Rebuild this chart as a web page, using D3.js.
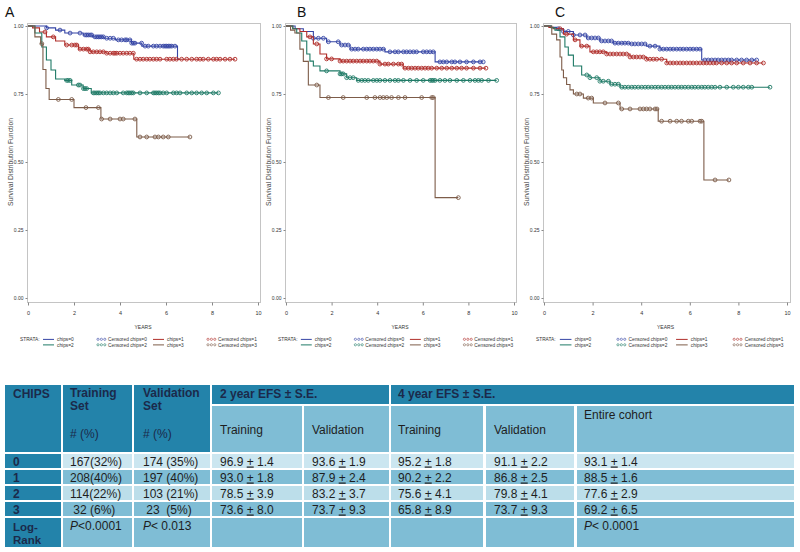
<!DOCTYPE html>
<html><head><meta charset="utf-8">
<script src="https://cdn.jsdelivr.net/npm/d3@7"></script>
<style>body{margin:0;background:#fff} svg{display:block}</style>
</head><body>
<svg id="c" width="800" height="552"></svg>
<script>
// ---------- DATA ----------
const strata = ["chips=0","chips=1","chips=2","chips=3"];
const xTicks = [0,2,4,6,8,10];
const yTicks = [0,0.25,0.5,0.75,1];
const yTickLabels = ["0.00","0.25","0.50","0.75","1.00"];
const panelLabels = ["A","B","C"];

// Panel A (Training set) : KM steps [years, survival], end time, censored times
const stepsA0 = [[0,1],[0.8,0.993],[1.2,0.985],[1.6,0.974],[2.4,0.967],[2.8,0.96],[3.3,0.955],[3.8,0.949],[4.5,0.937],[4.95,0.926],[6.5,0.878]];
const stepsA1 = [[0,1],[0.2,0.993],[0.5,0.978],[0.8,0.96],[1.2,0.945],[1.6,0.93],[2.2,0.915],[2.7,0.905],[3.4,0.9],[4.6,0.878]];
const stepsA2 = [[0,1],[0.3,0.974],[0.6,0.923],[0.8,0.875],[1.0,0.838],[1.2,0.805],[1.6,0.8],[1.9,0.783],[2.4,0.77],[2.75,0.754]];
const stepsA3 = [[0,1],[0.3,0.96],[0.55,0.935],[0.65,0.84],[0.78,0.77],[0.92,0.73],[2.0,0.70],[3.17,0.658],[4.73,0.592]];
const endsA = [6.6, 9.0, 8.28, 7.05];
const censA0 = [0.81,1.39,1.83,2.26,2.48,2.55,2.62,2.70,2.77,2.91,2.99,3.06,3.13,3.20,3.28,3.42,3.57,3.71,3.93,4.07,4.22,4.29,4.43,4.51,4.58,4.65,4.94,5.09,5.23,5.45,5.59,5.74,5.88,5.96,6.03,6.10,6.17,6.25,6.39];
const censA1 = [0.74,1.1,1.68,1.9,2.04,2.12,2.26,2.41,2.55,2.62,2.7,2.84,2.99,3.13,3.28,3.42,3.57,3.71,3.78,3.86,4.0,4.14,4.29,4.43,4.58,4.72,4.87,5.01,5.16,5.3,5.45,5.59,5.74,6.03,6.17,6.32,6.46,6.68,6.9,7.12,7.33,7.48,7.62,7.84,8.06,8.2,8.35,8.57,8.78,9.0];
const censA2 = [1.68,1.75,1.83,2.19,2.26,2.41,2.48,2.55,2.84,2.91,2.99,3.06,3.13,3.28,3.42,3.57,3.71,3.86,4.14,4.29,4.36,4.43,4.51,4.58,4.87,5.16,5.45,5.52,5.59,5.67,5.74,5.88,6.03,6.32,6.46,6.61,6.9,7.12,7.33,7.55,7.77,8.06,8.28];
const censA3 = [0.6,1.32,1.9,2.52,3.06,3.2,3.57,4.0,4.14,4.65,4.87,5.16,5.52,5.67,5.88,6.1,7.04];

// Panel B (Validation set)
const stepsB0 = [[0,1],[0.4,0.99],[0.76,0.98],[1.2,0.955],[1.78,0.942],[2.37,0.93],[2.81,0.915],[4.34,0.905],[6.54,0.868]];
const stepsB1 = [[0,1],[0.3,0.99],[0.61,0.98],[0.91,0.96],[1.2,0.934],[1.49,0.897],[1.78,0.879],[2.37,0.871],[4.12,0.86],[5.14,0.845]];
const stepsB2 = [[0,1],[0.3,0.99],[0.47,0.974],[0.69,0.945],[0.91,0.897],[1.05,0.871],[1.2,0.853],[1.49,0.835],[2.37,0.824],[2.66,0.81],[3.1,0.8]];
const stepsB3 = [[0,1],[0.2,0.985],[0.39,0.974],[0.61,0.915],[0.76,0.87],[0.98,0.783],[1.49,0.737],[6.54,0.369]];
const endsB = [8.65, 8.77, 9.24, 7.56];
const censB0 = [1.2,1.42,1.64,1.86,2.29,2.44,2.59,2.73,2.88,3.03,3.17,3.39,3.54,3.68,3.83,3.98,4.12,4.27,4.56,4.78,4.93,5.15,5.29,5.44,5.59,5.73,6.02,6.17,6.32,6.46,6.75,6.9,7.05,7.27,7.41,7.63,7.92,8.22,8.51,8.65];
const censB1 = [1.05,1.35,1.78,2.0,2.37,2.51,2.66,2.81,2.95,3.1,3.25,3.39,3.54,3.68,3.83,3.98,4.12,4.34,4.49,4.71,4.93,5.07,5.22,5.37,5.51,5.66,5.8,5.95,6.1,6.24,6.39,6.61,6.83,7.05,7.27,7.49,7.7,7.92,8.22,8.51,8.77];
const censB2 = [1.78,2.37,2.44,2.51,2.66,2.81,2.95,3.17,3.32,3.46,3.61,3.83,3.98,4.12,4.34,4.56,4.78,4.93,5.15,5.44,5.73,6.02,6.32,6.39,6.46,6.54,6.75,6.97,7.19,7.49,7.78,8.07,8.29,8.44,8.58,8.88,9.24];
const censB3 = [1.35,1.86,2.51,3.54,3.9,4.12,4.27,4.42,4.63,4.93,5.22,5.95,6.39,6.46,7.56];

// Panel C (Entire cohort)
const stepsC0 = [[0,1],[0.3,0.995],[0.52,0.99],[0.8,0.98],[1.21,0.967],[1.76,0.956],[2.3,0.945],[2.85,0.937],[3.54,0.934],[4.22,0.926],[4.77,0.915],[6.49,0.875]];
const stepsC1 = [[0,1],[0.2,0.995],[0.38,0.99],[0.8,0.97],[1.21,0.949],[1.48,0.926],[1.89,0.905],[2.58,0.897],[3.54,0.886],[4.22,0.878],[5.05,0.864]];
const stepsC2 = [[0,1],[0.3,0.993],[0.45,0.985],[0.66,0.96],[0.86,0.923],[1.0,0.893],[1.21,0.853],[1.55,0.82],[1.89,0.81],[2.3,0.797],[2.72,0.786],[3.13,0.775]];
const stepsC3 = [[0,1],[0.32,0.97],[0.52,0.949],[0.66,0.886],[0.73,0.838],[0.8,0.81],[0.93,0.785],[1.07,0.765],[1.21,0.75],[1.62,0.735],[2.03,0.717],[3.13,0.695],[4.7,0.65],[6.58,0.434]];
const endsC = [8.75, 9.03, 9.3, 7.61];
const censC0 = [0.59,0.8,1.0,1.21,1.48,1.69,1.82,1.96,2.1,2.24,2.37,2.51,2.65,2.78,2.92,3.06,3.2,3.33,3.47,3.61,3.74,3.88,4.02,4.16,4.36,4.57,4.77,4.91,5.05,5.19,5.32,5.46,5.6,5.73,5.87,6.01,6.14,6.28,6.42,6.62,6.76,6.9,7.04,7.17,7.31,7.45,7.59,7.72,7.93,8.13,8.34,8.55,8.75];
const censC1 = [0.66,0.93,1.28,1.55,1.76,2.03,2.17,2.3,2.44,2.58,2.72,2.85,2.99,3.13,3.26,3.4,3.54,3.68,3.81,3.95,4.09,4.22,4.36,4.5,4.64,4.84,5.05,5.19,5.32,5.46,5.6,5.73,5.87,6.01,6.14,6.28,6.42,6.56,6.69,6.83,6.97,7.1,7.31,7.52,7.72,7.93,8.2,8.48,8.75,9.03];
const censC2 = [1.76,1.89,2.17,2.3,2.44,2.65,2.78,2.92,3.06,3.2,3.33,3.47,3.61,3.74,3.88,4.02,4.16,4.29,4.43,4.57,4.7,4.84,4.98,5.12,5.25,5.39,5.53,5.66,5.8,5.94,6.08,6.21,6.35,6.49,6.62,6.76,6.9,7.04,7.24,7.52,7.79,8.0,8.2,8.41,8.55,9.3];
const censC3 = [1.35,1.48,1.82,1.96,2.51,3.06,3.2,3.54,3.95,4.09,4.22,4.36,4.57,4.65,4.84,5.19,5.46,5.66,5.94,6.08,6.42,6.49,7.04,7.61];

// Table data
const chipsLabels = ["0","1","2","3"];
const trainN = ["167(32%)","208(40%)","114(22%)"," 32 (6%)"];
const validN = ["174 (35%)","197 (40%)","103 (21%)"," 23  (5%)"];
const efs2Train = [[96.9,1.4],[93.0,1.8],[78.5,3.9],[73.6,8.0]];
const efs2Valid = [[93.6,1.9],[87.9,2.4],[83.2,3.7],[73.7,9.3]];
const efs4Train = [[95.2,1.8],[90.2,2.2],[75.6,4.1],[65.8,8.9]];
const efs4Valid = [[91.1,2.2],[86.8,2.5],[79.8,4.1],[73.7,9.3]];
const efs4All = [[93.1,1.4],[88.5,1.6],[77.6,2.9],[69.2,6.5]];
const logRankP = ["<0.0001","< 0.013","< 0.0001"];

// ---------- STYLE / LAYOUT ----------
const colors = ["#3545a5","#b02e2a","#1f7a66","#7d5c49"];
const FONT = "'Liberation Sans', Arial, sans-serif";
const svg = d3.select("#c");

const panels = [
  {label:panelLabels[0], lx:5,   x0:28,  x1:258, fl:27,  fr:260, steps:[stepsA0,stepsA1,stepsA2,stepsA3], ends:endsA, cens:[censA0,censA1,censA2,censA3]},
  {label:panelLabels[1], lx:297, x0:286, x1:514, fl:285, fr:516, steps:[stepsB0,stepsB1,stepsB2,stepsB3], ends:endsB, cens:[censB0,censB1,censB2,censB3]},
  {label:panelLabels[2], lx:555, x0:544, x1:787, fl:543, fr:790, steps:[stepsC0,stepsC1,stepsC2,stepsC3], ends:endsC, cens:[censC0,censC1,censC2,censC3]}
];

function stepAt(steps, t){ let v = steps[0][1]; for (const s of steps){ if (s[0] <= t) v = s[1]; else break; } return v; }

panels.forEach(p => {
  const g = svg.append("g");
  const x = d3.scaleLinear().domain([0,10]).range([p.x0,p.x1]);
  const y = d3.scaleLinear().domain([0,1]).range([298,26]);
  const top = 23, bottom = 302;

  g.append("rect").attr("x",p.fl+0.5).attr("y",top+0.5).attr("width",p.fr-p.fl).attr("height",bottom-top)
    .attr("fill","none").attr("stroke","#c4c4c4").attr("stroke-width",1);

  const ya = g.append("g").attr("transform",`translate(${p.fl+0.5},0)`)
    .call(d3.axisLeft(y).tickValues(yTicks).tickFormat((d,i)=>yTickLabels[i]).tickSize(2).tickPadding(2));
  ya.select(".domain").remove();
  ya.selectAll("line").attr("stroke","#888");
  ya.selectAll("text").attr("font-size",5).attr("font-family",FONT).attr("fill","#333");

  const xa = g.append("g").attr("transform",`translate(0,${bottom+0.5})`)
    .call(d3.axisBottom(x).tickValues(xTicks).tickSize(3).tickPadding(6));
  xa.select(".domain").remove();
  xa.selectAll("line").attr("stroke","#888");
  xa.selectAll("text").attr("font-size",5.5).attr("font-family",FONT).attr("fill","#333");

  // titles
  g.append("text").attr("transform",`translate(${p.fl-14},162) rotate(-90)`).attr("text-anchor","middle")
    .attr("font-size",6.8).attr("font-family",FONT).attr("fill","#444").text("Survival Distribution Function");
  g.append("text").attr("x",(p.x0+p.x1)/2).attr("y",329).attr("text-anchor","middle")
    .attr("font-size",5).attr("font-family",FONT).attr("fill","#333").text("YEARS");
  g.append("text").attr("x",p.lx).attr("y",17).attr("font-size",14).attr("font-family",FONT).attr("fill","#111").text(p.label);

  // curves
  const line = d3.line().x(d=>x(d[0])).y(d=>y(d[1])).curve(d3.curveStepAfter);
  p.steps.forEach((st,i) => {
    const pts = st.concat([[p.ends[i], st[st.length-1][1]]]);
    g.append("path").attr("d",line(pts)).attr("fill","none").attr("stroke",colors[i]).attr("stroke-width",1.1);
    g.selectAll(null).data(p.cens[i]).enter().append("circle")
      .attr("cx",d=>x(d)).attr("cy",d=>y(stepAt(st,d))).attr("r",1.9)
      .attr("fill","none").attr("stroke",colors[i]).attr("stroke-width",0.9);
  });

  // legend
  const k = (p.x1-p.x0)/230;
  const lg = g.append("g").attr("font-family",FONT).attr("font-size",4.8).attr("fill","#333");
  lg.append("text").attr("x",p.x0-8).attr("y",341).text("STRATA:");
  const rows = [[0,1],[2,3]];
  rows.forEach((r,ri) => {
    const yy = 341 + ri*5.5;
    r.forEach((si,ci) => {
      const base = p.x0 + (ci===0 ? 15 : 125)*k;
      lg.append("line").attr("x1",base).attr("x2",base+11*k).attr("y1",yy-1.6).attr("y2",yy-1.6)
        .attr("stroke",colors[si]).attr("stroke-width",1);
      lg.append("text").attr("x",base+14*k).attr("y",yy).text(strata[si]);
      const cb = base + 55*k;
      [0,1,2].forEach(j => lg.append("circle").attr("cx",cb+j*3.4).attr("cy",yy-1.7).attr("r",1.1)
        .attr("fill","none").attr("stroke",colors[si]).attr("stroke-width",0.6));
      lg.append("text").attr("x",cb+10*k).attr("y",yy).text("Censored " + strata[si]);
    });
  });
});

// ---------- TABLE ----------
const colX = [5,63,134,212,304,391,486,577];
const colR = [61,132,210,302,389,483,574,794];
const rowY = [385,406,454,470,486,502,518];
const rowB = [404,452,468,484,500,516,547];
const dark = "#2383aa", med = "#7fbdd5", light0 = "#cbe6f0", light2 = "#bcdeea";
const navy = "#1b2a4a", ink = "#1e1e1e";
const tg = svg.append("g").attr("font-family",FONT).attr("font-size",12);

function cell(c0,c1,r0,r1,fill){
  tg.append("rect").attr("x",colX[c0]).attr("y",rowY[r0]).attr("width",colR[c1]-colX[c0]).attr("height",rowB[r1]-rowY[r0]).attr("fill",fill);
}
function txt(s,xx,yy,opt={}){
  const t = tg.append("text").attr("x",xx).attr("y",yy).attr("fill",opt.fill||ink)
    .attr("font-weight",opt.bold?"bold":"normal").style("white-space","pre");
  if (opt.size) t.attr("font-size",opt.size);
  if (opt.italicP){ t.append("tspan").attr("font-style","italic").text("P"); t.append("tspan").text(s); }
  else t.text(s);
  return t;
}
function pm(v,xx,yy){
  const f = d3.format(".1f");
  const t = tg.append("text").attr("x",xx).attr("y",yy).attr("fill",ink).style("white-space","pre");
  t.append("tspan").text(f(v[0])+" ");
  t.append("tspan").style("text-decoration","underline").text("+");
  t.append("tspan").text(" "+f(v[1]));
}

// header
cell(0,0,0,1,dark); cell(1,1,0,1,dark); cell(2,2,0,1,dark);
cell(3,4,0,0,dark); cell(5,7,0,0,dark);
for (let c=3;c<=7;c++) cell(c,c,1,1,med);
// body
for (let r=0;r<4;r++){
  cell(0,0,r+2,r+2,dark);
  const f = r===0 ? light0 : (r===2 ? light2 : med);
  for (let c=1;c<=7;c++) cell(c,c,r+2,r+2,f);
}
cell(0,0,6,6,dark);
for (let c=1;c<=7;c++) cell(c,c,6,6,med);

// header text
txt("CHIPS",13,398,{bold:true,fill:navy});
txt("Training",70,397,{bold:true,fill:navy}); txt("Set",70,410,{bold:true,fill:navy}); txt("# (%)",70,438,{fill:navy});
txt("Validation",143,397,{bold:true,fill:navy}); txt("Set",143,410,{bold:true,fill:navy}); txt("# (%)",143,438,{fill:navy});
txt("2 year EFS \u00b1 S.E.",220,398,{bold:true,fill:navy});
txt("4 year EFS \u00b1 S.E.",398,398,{bold:true,fill:navy});
txt("Training",220,434); txt("Validation",312,434);
txt("Training",398,434); txt("Validation",494,434);
txt("Entire cohort",584,419);

// body text
chipsLabels.forEach((c,i) => {
  const yy = rowY[i+2] + 11.5;
  txt(c,13,yy,{bold:true,fill:navy});
  txt(trainN[i],70,yy);
  txt(validN[i],143,yy);
  pm(efs2Train[i],220,yy);
  pm(efs2Valid[i],312,yy);
  pm(efs4Train[i],398,yy);
  pm(efs4Valid[i],494,yy);
  pm(efs4All[i],584,yy);
});
txt("Log-",13,530.5,{bold:true,fill:navy,size:11.5}); txt("Rank",13,543.5,{bold:true,fill:navy,size:11.5});
txt(logRankP[0],70,530,{italicP:true});
txt(logRankP[1],143,530,{italicP:true});
txt(logRankP[2],584,530,{italicP:true});
</script>
</body></html>
